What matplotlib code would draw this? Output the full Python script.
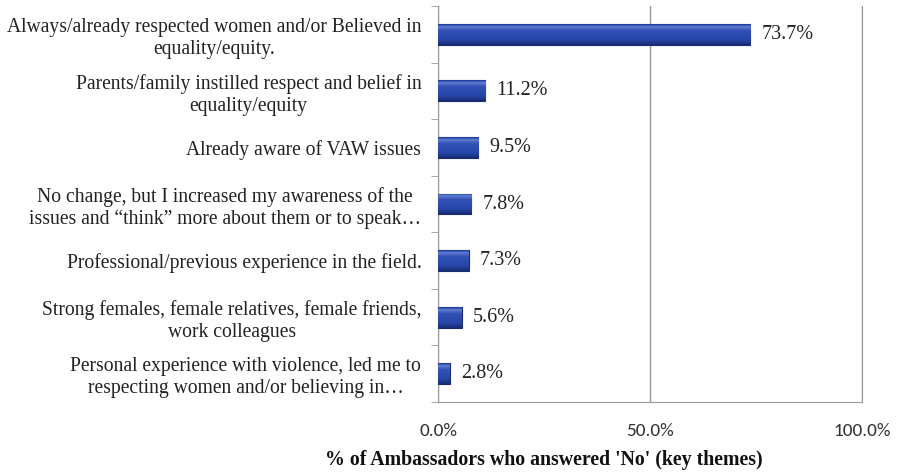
import numpy as np
import matplotlib.pyplot as plt
from matplotlib.colors import LinearSegmentedColormap
from matplotlib.ticker import FixedLocator, PercentFormatter

# themes (top to bottom) and share of "No" answers, in %
themes = [
    "Always/already respected women and/or Believed in\nequality/equity.",
    "Parents/family instilled respect and belief in\nequality/equity",
    "Already aware of VAW issues",
    "No change, but I increased my awareness of the\nissues and \u201cthink\u201d more about them or to speak\u2026",
    "Professional/previous experience in the field.",
    "Strong females, female relatives, female friends,\nwork colleagues",
    "Personal experience with violence, led me to\nrespecting women and/or believing in\u2026",
]
pct = [73.7, 11.2, 9.5, 7.8, 7.3, 5.6, 2.8]
xticks = [0, 50, 100]

serif = ["Liberation Serif", "DejaVu Serif"]
sans = ["Carlito", "Liberation Sans", "DejaVu Sans"]

fig = plt.figure(figsize=(8.98, 4.73), dpi=100)
ax = fig.add_axes([438 / 898, 71 / 473, 424 / 898, 396 / 473])

y = np.arange(len(themes))
bars = ax.barh(y, pct, height=0.37, color="#2b49a8", edgecolor="#1a2c70", lw=0.8, zorder=3)

# shaded look on each bar: light band near the top, dark at the bottom
grad = np.linspace(0, 1, 64).reshape(-1, 1)
shade = np.interp(grad, [0, 0.12, 0.3, 0.75, 1], [0.3, 0.85, 0.55, 0.45, 0.15])
cmap = LinearSegmentedColormap.from_list("bar", ["#0f1f5c", "#2b4bb0", "#7a95e0"])
for b in bars:
    x0, y0 = b.get_x(), b.get_y()
    w, h = b.get_width(), b.get_height()
    im = ax.imshow(shade, cmap=cmap, vmin=0, vmax=1, aspect="auto",
                   extent=[x0, x0 + w, y0 + h, y0], origin="upper", zorder=3.5)
    im.set_clip_path(b)

for yi, v in zip(y, pct):
    ax.annotate(f"{v:.1f}%", (v, yi), xytext=(8, 0), textcoords="offset points",
                va="center", ha="left", fontsize=14.5, family=serif, color="#222222")

ax.set_xlim(0, 100)
ax.set_ylim(len(themes) - 0.5, -0.5)

ax.set_yticks(y)
ax.set_yticklabels(themes, family=serif, fontsize=14.1, color="#222222",
                   ha="right", multialignment="center", linespacing=1.2)
ax.yaxis.set_minor_locator(FixedLocator(np.arange(-0.5, len(themes), 1)))
ax.tick_params(axis="y", which="major", length=0, pad=12)
ax.tick_params(axis="y", which="minor", length=5, color="#999999", direction="out")

ax.set_xticks(xticks)
ax.xaxis.set_major_formatter(PercentFormatter(decimals=1))
ax.tick_params(axis="x", length=0, pad=15, labelsize=13.8, labelcolor="#333333")
for lab in ax.get_xticklabels():
    lab.set_family(sans)

ax.xaxis.grid(True, color="#999999", lw=1, zorder=0)
ax.spines["top"].set_visible(False)
for s in ["left", "bottom", "right"]:
    ax.spines[s].set_color("#999999")

fig.text(544 / 898, 1 - 460 / 473, "% of Ambassadors who answered 'No' (key themes)",
         family=serif, fontsize=14.3, fontweight="bold", color="#111111",
         ha="center", va="center")

fig.savefig("out.png", dpi=100)
